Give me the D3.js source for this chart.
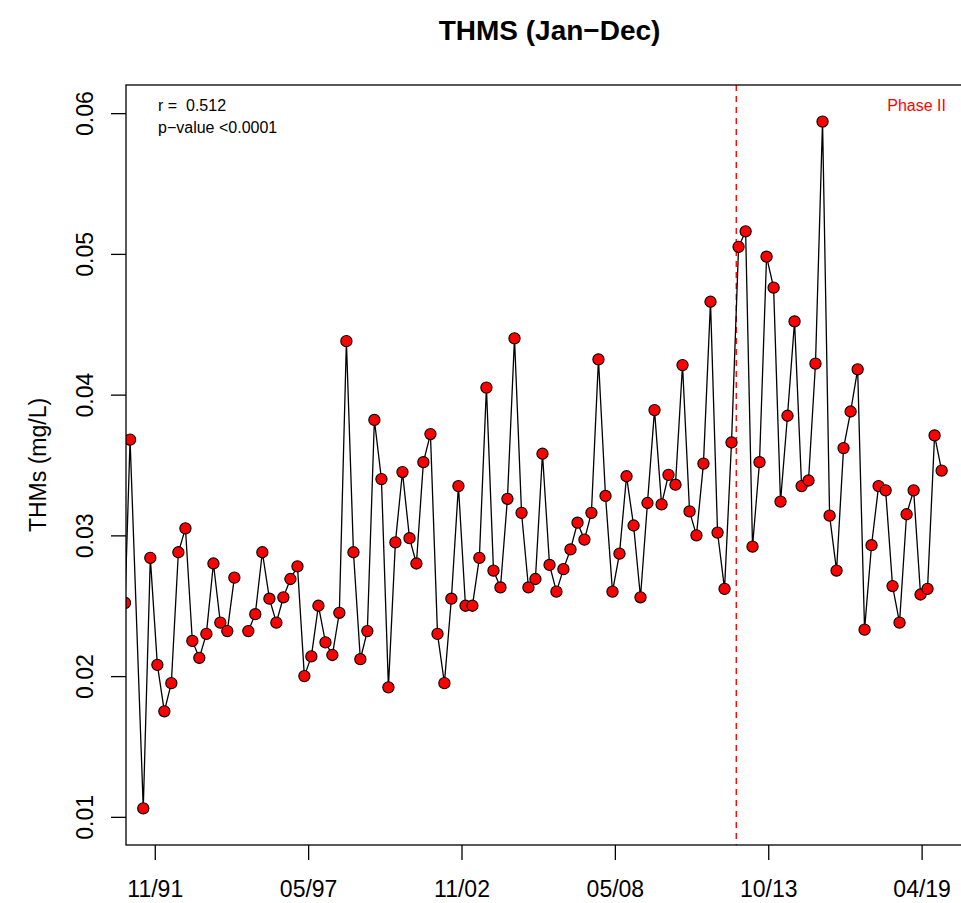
<!DOCTYPE html>
<html>
<head>
<meta charset="utf-8">
<script src="https://cdn.jsdelivr.net/npm/d3@7/dist/d3.min.js"></script>
<style>
  html, body { margin: 0; padding: 0; background: #ffffff; }
  svg { display: block; }
  text { font-family: "Liberation Sans", Arial, Helvetica, sans-serif; }
</style>
</head>
<body>
<svg id="chart" width="961" height="903"></svg>
<script>
// ---------------- data ----------------
const title = "THMS (Jan\u2212Dec)";
const yLabel = "THMs (mg/L)";
const statLines = ["r =  0.512", "p\u2212value <0.0001"];
const phaseLabel = "Phase II";
const phaseDate = "2012-09-01";

const sampleDates = [
  "1990-11-05","1991-01-10","1991-07-01","1991-10-01",
  "1992-01-01","1992-04-01","1992-07-01","1992-10-01",
  "1993-01-01","1993-04-01","1993-07-01","1993-10-01",
  "1994-01-01","1994-04-01","1994-07-01","1994-10-01",
  "1995-01-01","1995-04-01","1995-07-01","1995-10-01",
  "1996-01-01","1996-04-01","1996-07-01","1996-10-01",
  "1997-01-01","1997-04-01","1997-07-01","1997-10-01",
  "1998-01-01","1998-04-01","1998-07-01","1998-10-01",
  "1999-01-01","1999-04-01","1999-07-01","1999-10-01",
  "2000-01-01","2000-04-01","2000-07-01","2000-10-01",
  "2001-01-01","2001-04-01","2001-07-01","2001-10-01",
  "2002-01-01","2002-04-01","2002-07-01","2002-10-01",
  "2003-01-01","2003-04-01","2003-07-01","2003-10-01",
  "2004-01-01","2004-04-01","2004-07-01","2004-10-01",
  "2005-01-01","2005-04-01","2005-07-01","2005-10-01",
  "2006-01-01","2006-04-01","2006-07-01","2006-10-01",
  "2007-01-01","2007-04-01","2007-07-01","2007-10-01",
  "2008-01-01","2008-04-01","2008-07-01","2008-10-01",
  "2009-01-01","2009-04-01","2009-07-01","2009-10-01",
  "2010-01-01","2010-04-01","2010-07-01","2010-10-01",
  "2011-01-01","2011-04-01","2011-07-01","2011-10-01",
  "2012-01-01","2012-04-01","2012-07-01","2012-10-01",
  "2013-01-01","2013-04-01","2013-07-01","2013-10-01",
  "2014-01-01","2014-04-01","2014-07-01","2014-10-01",
  "2015-01-01","2015-04-01","2015-07-01","2015-10-01",
  "2016-01-01","2016-04-01","2016-07-01","2016-10-01",
  "2017-01-01","2017-04-01","2017-07-01","2017-10-01",
  "2018-01-01","2018-04-01","2018-07-01","2018-10-01",
  "2019-01-01","2019-04-01","2019-07-01","2019-10-01",
  "2020-01-01"
];

const thmValues = [
  0.0252, 0.0368, 0.0106, 0.0284,
  0.0208, 0.0175, 0.0195, 0.0288,
  0.0305, 0.0225, 0.0213, 0.0230,
  0.0280, 0.0238, 0.0232, 0.0270,
  null,   0.0232, 0.0244, 0.0288,
  0.0255, 0.0238, 0.0256, 0.0269,
  0.0278, 0.0200, 0.0214, 0.0250,
  0.0224, 0.0215, 0.0245, 0.0438,
  0.0288, 0.0212, 0.0232, 0.0382,
  0.0340, 0.0192, 0.0295, 0.0345,
  0.0298, 0.0280, 0.0352, 0.0372,
  0.0230, 0.0195, 0.0255, 0.0335,
  0.0250, 0.0250, 0.0284, 0.0405,
  0.0275, 0.0263, 0.0326, 0.0440,
  0.0316, 0.0263, 0.0269, 0.0358,
  0.0279, 0.0260, 0.0276, 0.0290,
  0.0309, 0.0297, 0.0316, 0.0425,
  0.0328, 0.0260, 0.0287, 0.0342,
  0.0307, 0.0256, 0.0323, 0.0389,
  0.0322, 0.0343, 0.0336, 0.0421,
  0.0317, 0.0300, 0.0351, 0.0466,
  0.0302, 0.0262, 0.0366, 0.0505,
  0.0516, 0.0292, 0.0352, 0.0498,
  0.0476, 0.0324, 0.0385, 0.0452,
  0.0335, 0.0339, 0.0422, 0.0594,
  0.0314, 0.0275, 0.0362, 0.0388,
  0.0418, 0.0233, 0.0293, 0.0335,
  0.0332, 0.0264, 0.0238, 0.0315,
  0.0332, 0.0258, 0.0262, 0.0371,
  0.0346
];

const xLimits = ["1992-01-01", "2020-01-01"];
const xTickDates = ["1991-11-28","1997-05-20","2002-11-10","2008-05-02","2013-10-23","2019-04-15"];
const yLimits = [0.01, 0.06];
const yTickValues = [0.01, 0.02, 0.03, 0.04, 0.05, 0.06];

// ---------------- layout ----------------
const parse = d3.timeParse("%Y-%m-%d");
const plot = { left: 126, right: 973, top: 85, bottom: 845 };

function padRange(a, b) { const p = (b - a) * 0.04; return [a - p, b + p]; }

const xl = xLimits.map(s => +parse(s));
const xDom = padRange(xl[0], xl[1]).map(v => new Date(v));
const x = d3.scaleTime().domain(xDom).range([plot.left, plot.right]);
const y = d3.scaleLinear().domain(padRange(yLimits[0], yLimits[1])).range([plot.bottom, plot.top]);

const data = sampleDates.map((d, i) => ({ date: parse(d), v: thmValues[i] }));

const svg = d3.select("#chart");
const font = "'Liberation Sans', Arial, Helvetica, sans-serif";

svg.append("defs").append("clipPath").attr("id", "plotclip")
  .append("rect")
  .attr("x", plot.left).attr("y", plot.top)
  .attr("width", plot.right - plot.left).attr("height", plot.bottom - plot.top);

// title
svg.append("text")
  .attr("x", (plot.left + plot.right) / 2).attr("y", 40)
  .attr("text-anchor", "middle")
  .attr("font-size", 28).attr("font-weight", "bold")
  .attr("fill", "#000")
  .text(title);

// y label
svg.append("text")
  .attr("transform", `translate(46,${(plot.top + plot.bottom) / 2}) rotate(-90)`)
  .attr("text-anchor", "middle")
  .attr("font-size", 23)
  .attr("fill", "#000")
  .text(yLabel);

const g = svg.append("g").attr("clip-path", "url(#plotclip)");

// Phase line
g.append("line")
  .attr("x1", x(parse(phaseDate))).attr("x2", x(parse(phaseDate)))
  .attr("y1", plot.top).attr("y2", plot.bottom)
  .attr("stroke", "#ff0000").attr("stroke-width", 1.4)
  .attr("stroke-dasharray", "6,5");

// series line
const line = d3.line()
  .defined(d => d.v != null)
  .x(d => x(d.date)).y(d => y(d.v));
g.append("path")
  .datum(data)
  .attr("d", line)
  .attr("fill", "none")
  .attr("stroke", "#000")
  .attr("stroke-width", 1.3);

// points
g.selectAll("circle")
  .data(data.filter(d => d.v != null))
  .join("circle")
  .attr("cx", d => x(d.date)).attr("cy", d => y(d.v))
  .attr("r", 5.6)
  .attr("fill", "#ff0000")
  .attr("stroke", "#000")
  .attr("stroke-width", 1.1);

// axes
const xAxis = d3.axisBottom(x)
  .tickValues(xTickDates.map(parse))
  .tickFormat(d3.timeFormat("%m/%y"))
  .tickSize(15).tickSizeOuter(0);
const xg = svg.append("g").attr("transform", `translate(0,${plot.bottom})`).call(xAxis);
xg.select(".domain").remove();
xg.selectAll(".tick line").attr("stroke", "#000").attr("stroke-width", 1.3);
xg.selectAll(".tick text")
  .attr("font-family", font).attr("font-size", 23).attr("fill", "#000")
  .attr("dy", null).attr("y", 52);

const yAxis = d3.axisLeft(y)
  .tickValues(yTickValues)
  .tickFormat(d3.format(".2f"))
  .tickSize(15).tickSizeOuter(0);
const yg = svg.append("g").attr("transform", `translate(${plot.left},0)`).call(yAxis);
yg.select(".domain").remove();
yg.selectAll(".tick line").attr("stroke", "#000").attr("stroke-width", 1.3);
yg.selectAll(".tick text")
  .attr("font-family", font).attr("font-size", 23).attr("fill", "#000")
  .attr("x", null).attr("dy", null)
  .attr("text-anchor", "middle")
  .attr("transform", "translate(-33,0) rotate(-90)");

// box
svg.append("rect")
  .attr("x", plot.left).attr("y", plot.top)
  .attr("width", plot.right - plot.left).attr("height", plot.bottom - plot.top)
  .attr("fill", "none").attr("stroke", "#000").attr("stroke-width", 1.3);

// stats text
svg.append("g").selectAll("text")
  .data(statLines)
  .join("text")
  .attr("x", 158).attr("y", (d, i) => 111 + i * 22)
  .attr("font-size", 16).attr("fill", "#000")
  .style("white-space", "pre")
  .text(d => d);

svg.append("text")
  .attr("x", 946).attr("y", 111)
  .attr("text-anchor", "end")
  .attr("font-size", 16).attr("fill", "#ff0000")
  .text(phaseLabel);
</script>
</body>
</html>
